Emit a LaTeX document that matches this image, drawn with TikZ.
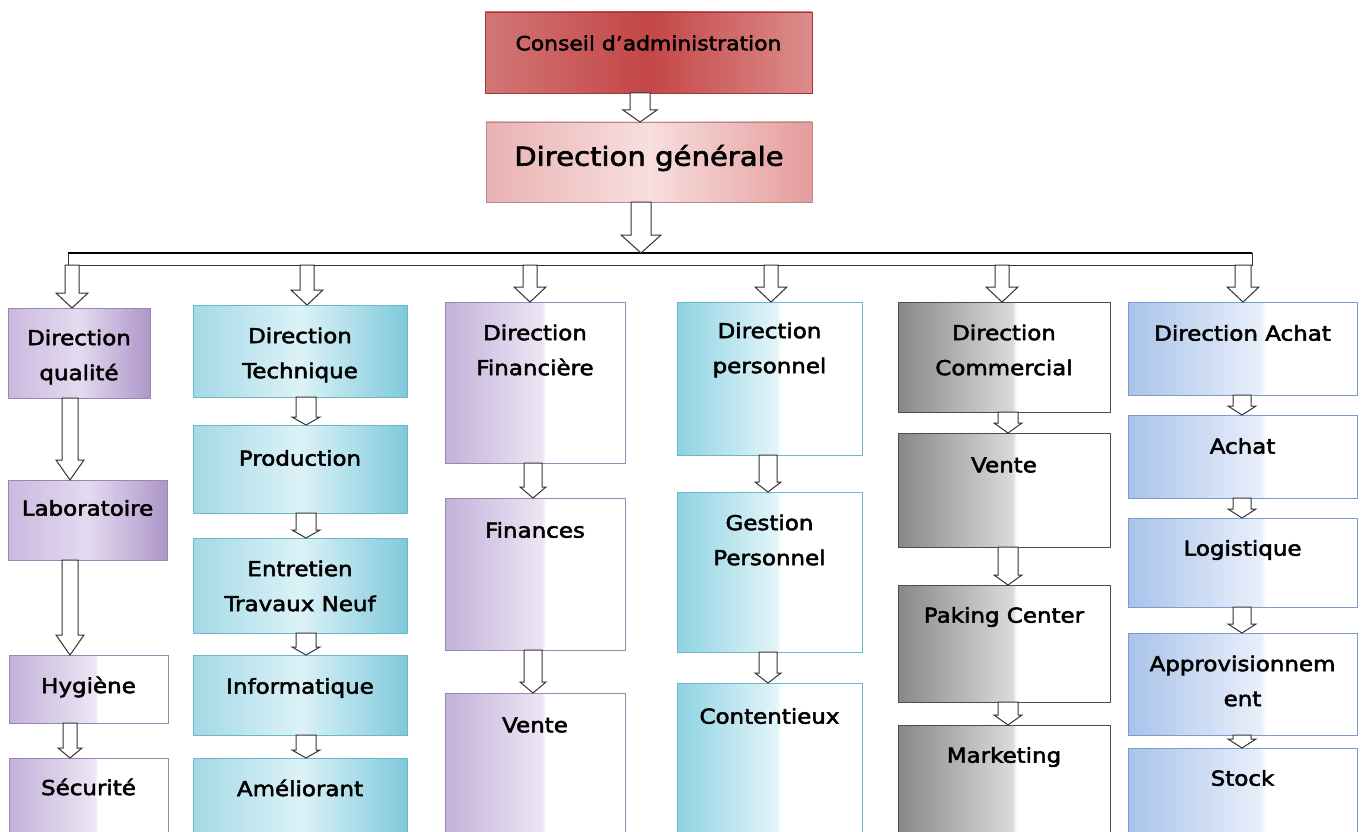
\documentclass[tikz,border=0pt]{standalone}
\usepackage{fontspec}
\setmainfont{DejaVu Sans}[FakeStretch=1.12,FakeBold=2.5]
\usetikzlibrary{calc}
\definecolor{purA}{HTML}{C3B1D9}
\definecolor{purB}{HTML}{ECE6F4}
\definecolor{cyA}{HTML}{8ED2E2}
\definecolor{cyB}{HTML}{E2F5F9}
\definecolor{grA}{HTML}{888888}
\definecolor{grB}{HTML}{DADADA}
\definecolor{blA}{HTML}{A9C3EA}
\definecolor{blB}{HTML}{E8EFFA}
\definecolor{purD}{HTML}{9A86B3}
\definecolor{cyD}{HTML}{6CB7C9}
\definecolor{blD}{HTML}{7D9CCC}
\definecolor{redD}{HTML}{A83535}
\definecolor{redL}{HTML}{D27676}
\definecolor{redM}{HTML}{C44646}
\definecolor{redR}{HTML}{DD8C8C}
\definecolor{pinkL}{HTML}{E9B2B2}
\definecolor{pinkM}{HTML}{F8DEDE}
\definecolor{pinkR}{HTML}{E59C9C}
\definecolor{pinkD}{HTML}{B88A8A}
\pgfdeclarehorizontalshading{purW}{100bp}{color(0bp)=(purA); color(25bp)=(purA); color(52bp)=(purB); color(53bp)=(white); color(100bp)=(white)}
\pgfdeclarehorizontalshading{cyW}{100bp}{color(0bp)=(cyA); color(25bp)=(cyA); color(52bp)=(cyB); color(53bp)=(white); color(100bp)=(white)}
\pgfdeclarehorizontalshading{grW}{100bp}{color(0bp)=(grA); color(25bp)=(grA); color(52bp)=(grB); color(53bp)=(white); color(100bp)=(white)}
\pgfdeclarehorizontalshading{blW}{100bp}{color(0bp)=(blA); color(25bp)=(blA); color(54bp)=(blB); color(55bp)=(white); color(100bp)=(white)}
\newcommand\obox[8]{%
  \node[box,#2, minimum width={(#5)-(#3)}, minimum height={(#6)-(#4)}] (#1) at ({((#3)+(#5))/2},{((#4)+(#6))/2}) {};
  \node[lbl] (#1-t) at ({((#3)+(#5))/2},#7) {#8};
}
\newcommand\barr[6]{%
  \draw[arr] let \p1=(#2.south), \p2=(#3.north) in
    (#1pt-#4pt,\y1) -- (#1pt-#4pt,\y2+#6pt) -- (#1pt-#5pt,\y2+#6pt) -- (#1pt,\y2)
    -- (#1pt+#5pt,\y2+#6pt) -- (#1pt+#4pt,\y2+#6pt) -- (#1pt+#4pt,\y1) -- cycle;
}
\begin{document}
\begin{tikzpicture}[x=1pt,y=-1pt,
  box/.style={draw, inner sep=0pt, outer sep=0pt, line width=0.9pt},
  lbl/.style={font=\fontsize{20.5}{35}\selectfont, align=center, inner sep=0pt, text=black},
  arr/.style={draw=black!80, fill=white, line width=1pt, line join=miter},
  redbox/.style={draw=redD, left color=redL, right color=redR, middle color=redM},
  pinkbox/.style={draw=pinkD, left color=pinkL, right color=pinkR, middle color=pinkM},
  qbox/.style={draw=purD, left color={rgb,255:red,203;green,185;blue,223}, right color={rgb,255:red,174;green,150;blue,201}, middle color={rgb,255:red,228;green,218;blue,240}},
  cbox/.style={draw=cyD, left color={rgb,255:red,163;green,217;blue,230}, right color={rgb,255:red,127;green,202;blue,220}, middle color={rgb,255:red,220;green,242;blue,247}},
  pw/.style={draw=purD, shade, shading=purW},
  cw/.style={draw=cyD, shade, shading=cyW},
  gw/.style={draw=black!70, shade, shading=grW},
  bw/.style={draw=blD, shade, shading=blW}]
\useasboundingbox (0,0) rectangle (1362,832);
\clip (0,0) rectangle (1362,832);
\fill[white] (0,0) rectangle (1362,832);

% top
\obox{ca}{redbox}{485}{12}{812}{93}{43}{\fontsize{19.5}{24}\selectfont Conseil d'administration}
\obox{dg}{pinkbox}{486}{122}{812}{202}{158}{\fontsize{26}{30}\selectfont Direction générale}
\node[draw=black!80, line width=0.8pt, fill=white, inner sep=0pt, outer sep=0pt, minimum width=1184, minimum height=12] (bus) at (660,259) {};
\draw[line width=2pt, black] (bus.north west) -- (bus.north east);

% column 1
\obox{dq}{qbox}{8}{308}{150}{398}{357}{Direction\\qualité}
\obox{lab}{qbox}{8}{480}{167}{560}{508}{Laboratoire}
\obox{hyg}{pw}{9}{655}{168}{723}{687}{Hygiène}
\obox{sec}{pw}{9}{758}{168}{845}{787}{Sécurité}
% column 2
\obox{dt}{cbox}{193}{305}{407}{397}{355}{Direction\\Technique}
\obox{prod}{cbox}{193}{425}{407}{513}{458}{Production}
\obox{ent}{cbox}{193}{538}{407}{633}{586}{Entretien\\Travaux Neuf}
\obox{inf}{cbox}{193}{655}{407}{735}{688}{Informatique}
\obox{ame}{cbox}{193}{758}{407}{845}{788}{Améliorant}
% column 3
\obox{df}{pw}{445}{302}{625}{463}{350}{Direction\\Financière}
\obox{fin}{pw}{445}{498}{625}{650}{530}{Finances}
\obox{vt}{pw}{445}{693}{625}{845}{725}{Vente}
% column 4
\obox{dp}{cw}{677}{302}{862}{455}{350}{Direction\\personnel}
\obox{gp}{cw}{677}{492}{862}{652}{540}{Gestion\\Personnel}
\obox{cont}{cw}{677}{683}{862}{845}{716}{Contentieux}
% column 5
\obox{dc}{gw}{898}{302}{1110}{412}{350}{Direction\\Commercial}
\obox{vc}{gw}{898}{433}{1110}{547}{465}{Vente}
\obox{pak}{gw}{898}{585}{1110}{702}{617}{Paking Center}
\obox{mkt}{gw}{898}{725}{1110}{845}{757}{Marketing}
% column 6
\obox{da}{bw}{1128}{302}{1357}{395}{333}{Direction Achat}
\obox{ach}{bw}{1128}{415}{1357}{498}{446}{Achat}
\obox{log}{bw}{1128}{518}{1357}{607}{550}{Logistique}
\obox{app}{bw}{1128}{633}{1357}{735}{681}{Approvisionnem\\ent}
\obox{stk}{bw}{1128}{748}{1357}{845}{778}{Stock}

% arrows
\barr{640}{ca}{dg}{10}{17}{12}
\barr{641}{dg}{bus}{10}{20}{18}
\barr{72}{bus}{dq}{7}{16}{15}
\barr{307}{bus}{dt}{7}{16}{15}
\barr{530}{bus}{df}{7}{16}{15}
\barr{771}{bus}{dp}{7}{16}{15}
\barr{1002}{bus}{dc}{7}{16}{15}
\barr{1243}{bus}{da}{8}{16}{15}

\barr{70}{dq}{lab}{8}{14}{20}
\barr{70}{lab}{hyg}{8}{14}{20}
\barr{70}{hyg}{sec}{7}{12}{10}

\barr{306}{dt}{prod}{10}{14}{8}
\barr{306}{prod}{ent}{10}{14}{8}
\barr{306}{ent}{inf}{10}{14}{8}
\barr{306}{inf}{ame}{10}{14}{8}

\barr{533}{df}{fin}{9}{13}{11}
\barr{533}{fin}{vt}{9}{13}{11}

\barr{768}{dp}{gp}{9}{13}{10}
\barr{768}{gp}{cont}{9}{13}{10}

\barr{1008}{dc}{vc}{10}{14}{10}
\barr{1008}{vc}{pak}{10}{14}{10}
\barr{1008}{pak}{mkt}{10}{14}{10}

\barr{1242}{da}{ach}{9}{14}{9}
\barr{1242}{ach}{log}{9}{14}{9}
\barr{1242}{log}{app}{9}{14}{9}
\barr{1242}{app}{stk}{9}{14}{9}
\end{tikzpicture}
\end{document}
